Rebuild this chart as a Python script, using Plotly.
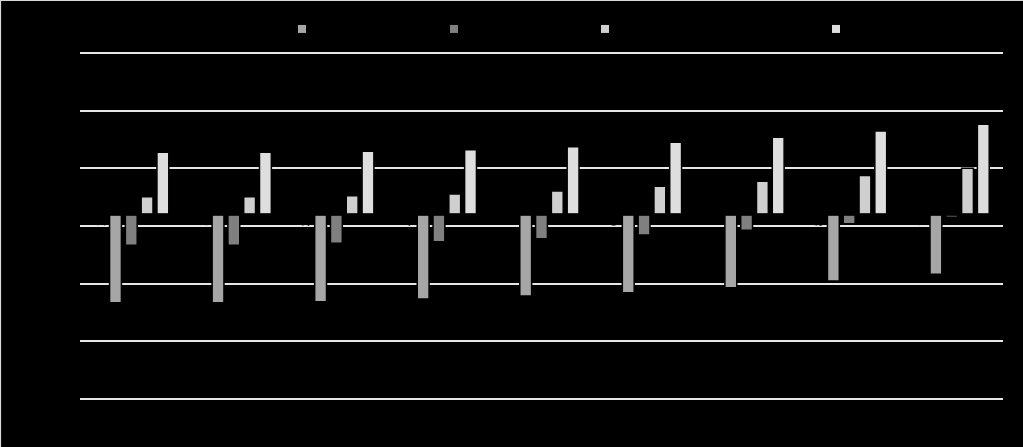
import plotly.graph_objects as go

categories = ["Category 1", "Category 2", "Category 3", "Category 4", "Category 5",
              "Category 6", "Category 7", "Category 8", "Category 9"]
series_names = ["Series 1", "Series 2", "Series 3", "Series 4"]
series_a = [-0.0765, -0.0765, -0.0756, -0.0733, -0.0707, -0.0678, -0.0635, -0.0577, -0.0519]
series_b = [-0.0267, -0.0267, -0.0250, -0.0236, -0.0210, -0.0178, -0.0137, -0.0080, -0.0025]
series_c = [0.0154, 0.0154, 0.0163, 0.0178, 0.0204, 0.0245, 0.0288, 0.0337, 0.0400]
series_d = [0.0539, 0.0539, 0.0548, 0.0562, 0.0588, 0.0626, 0.0669, 0.0724, 0.0782]
empty_series = [None] * len(categories)
y_min, y_max, y_step = -0.16, 0.14, 0.05

colors = ["#a6a6a6", "#808080", "#cfcfcf", "#dedede"]
legend_x_px = [282, 434, 585, 816]

W, H = 1023, 447
PAD = 4  # px of headroom so the edge gridlines are drawn
ML, MR, MT, MB = 80, 20, 53 - PAD, 48 - PAD
PW, PH = W - ML - MR, H - MT - MB
units_per_px = (y_max - y_min) / (PH - 2 * PAD)

fig = go.Figure()
# empty leading slot (series without data)
fig.add_trace(go.Bar(x=categories, y=empty_series, name="", showlegend=False,
                     marker=dict(color="#000000", line=dict(color="#000000", width=1.5))))
for i, (nm, vals) in enumerate(zip(series_names, [series_a, series_b, series_c, series_d])):
    fig.add_trace(go.Bar(x=categories, y=vals, name=nm, showlegend=False,
                         marker=dict(color=colors[i], line=dict(color="#000000", width=1.5))))

legend_keys = ["legend", "legend2", "legend3", "legend4"]
for i, nm in enumerate(series_names):
    fig.add_trace(go.Scatter(x=[None], y=[None], mode="markers", name=nm,
                             legend=legend_keys[i], showlegend=True,
                             marker=dict(symbol="square", size=8, color=colors[i],
                                         line=dict(color="#000000", width=0))))

legend_common = dict(orientation="h", bgcolor="rgba(0,0,0,0)",
                     font=dict(family="Liberation Sans, Arial", size=13, color="#000000"),
                     yanchor="middle", xanchor="left", y=1 + (MT - 29) / PH)
layout_legends = {}
for i, k in enumerate(legend_keys):
    layout_legends[k] = dict(legend_common, x=(legend_x_px[i] - ML) / PW)

for c in categories:
    fig.add_annotation(x=c, y=0, xref="x", yref="y", text=c, showarrow=False,
                       textangle=-90, xanchor="center", yanchor="top", xshift=-31, yshift=-2,
                       font=dict(family="Liberation Sans, Arial", size=13, color="#000000"))

fig.add_shape(type="line", xref="paper", yref="y", x0=0, x1=1, y0=0, y1=0,
              line=dict(color="#000000", width=2.5), layer="above")
fig.add_shape(type="rect", xref="paper", yref="paper",
              x0=(0.5 - ML) / PW, x1=(W + 2 - ML) / PW,
              y0=(MB - (H - 0.5)) / PH, y1=1 + (MT - 0.5) / PH,
              line=dict(color="#d9d9d9", width=1.2), fillcolor="rgba(0,0,0,0)", layer="above")

fig.update_layout(
    width=W, height=H,
    paper_bgcolor="#000000", plot_bgcolor="#000000",
    margin=dict(l=ML, r=MR, t=MT, b=MB),
    barmode="group", bargap=0.23, bargroupgap=0.25,
    font=dict(family="Liberation Sans, Arial", size=13, color="#000000"),
    xaxis=dict(showticklabels=False, showgrid=False, zeroline=False, showline=False,
               ticks=""),
    yaxis=dict(range=[y_min - PAD * units_per_px, y_max + PAD * units_per_px],
               tick0=y_min, dtick=y_step, showgrid=True,
               gridcolor="#e6e6e6", gridwidth=1.5, zeroline=False, showline=False,
               tickformat=".0%", tickfont=dict(color="#000000")),
    **layout_legends,
)

fig.write_html("out.html", config={"displayModeBar": False},
               post_script="document.body.style.margin='0';document.body.style.overflow='hidden';"
                           "document.body.style.background='#000';")
